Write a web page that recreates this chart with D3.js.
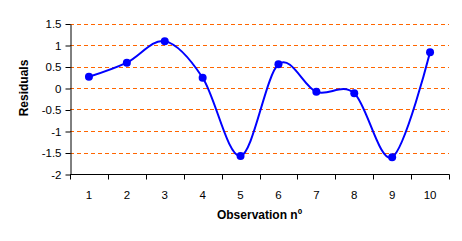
<!DOCTYPE html>
<html><head><meta charset="utf-8">
<script src="https://cdn.jsdelivr.net/npm/d3@7"></script>
<style>body{margin:0;background:#fff}svg{display:block}text{font-family:"Liberation Sans",Arial,sans-serif}</style>
</head><body><svg id="c" width="462" height="241"></svg>
<script>
const categories = ["1","2","3","4","5","6","7","8","9","10"];
const residuals = [0.26, 0.59, 1.09, 0.24, -1.58, 0.55, -0.09, -0.12, -1.61, 0.83];
const yTicks = [1.5, 1, 0.5, 0, -0.5, -1, -1.5, -2];
const gridValues = [1.5, 1, 0.5, 0, -0.5, -1, -1.5];

const svg = d3.select("#c");
const L = 70, R = 449, T = 23.5, B = 174;
const x = d3.scaleBand().domain(categories).range([L, R]);
const y = d3.scaleLinear().domain([-2, 1.5]).range([B, T]);

// gridlines
svg.append("g").selectAll("line").data(gridValues).join("line")
  .attr("x1", L).attr("x2", R)
  .attr("y1", d => Math.round(y(d)) + 0.5).attr("y2", d => Math.round(y(d)) + 0.5)
  .attr("stroke", "#FF6600").attr("stroke-width", 1).attr("stroke-dasharray", "4,3");

// y axis
const yAxis = d3.axisLeft(y).tickValues(yTicks).tickFormat(d => String(d)).tickSize(5).tickSizeOuter(0);
const gy = svg.append("g").attr("transform", `translate(${L + 0.5},0.5)`).call(yAxis);
gy.select(".domain").attr("stroke", "#000");
gy.selectAll(".tick line").attr("stroke", "#000");
gy.selectAll(".tick text").attr("font-size", 11.5).attr("fill", "#000").attr("x", -9)
  .attr("font-family", '"Liberation Sans",Arial,sans-serif');

// x axis: ticks at band boundaries
const boundaries = categories.map(c => x(c)).concat([R]);
const gx = svg.append("g").attr("transform", `translate(0,${B + 0.5})`);
gx.append("line").attr("x1", L).attr("x2", R + 0.5).attr("y1", 0).attr("y2", 0).attr("stroke", "#000");
gx.selectAll("line.tk").data(boundaries).join("line").attr("class", "tk")
  .attr("x1", d => Math.round(d) + 0.5).attr("x2", d => Math.round(d) + 0.5)
  .attr("y1", 0).attr("y2", 5).attr("stroke", "#000");
gx.selectAll("text").data(categories).join("text")
  .attr("x", d => x(d) + x.bandwidth() / 2).attr("y", 24)
  .attr("text-anchor", "middle").attr("font-size", 11.5).text(d => d);

// line
const line = d3.line()
  .x((d, i) => x(categories[i]) + x.bandwidth() / 2)
  .y(d => y(d))
  .curve(d3.curveCardinal.tension(0));
svg.append("path").datum(residuals).attr("d", line)
  .attr("fill", "none").attr("stroke", "#0000FF").attr("stroke-width", 2);

svg.append("g").selectAll("circle").data(residuals).join("circle")
  .attr("cx", (d, i) => x(categories[i]) + x.bandwidth() / 2)
  .attr("cy", d => y(d)).attr("r", 4).attr("fill", "#0000FF");

// axis titles
svg.append("text").attr("x", (L + R) / 2).attr("y", 219).attr("text-anchor", "middle")
  .attr("font-size", 12).attr("font-weight", "bold").text("Observation nº");
svg.append("text").attr("transform", `translate(28,${y(0)}) rotate(-90)`)
  .attr("text-anchor", "middle").attr("font-size", 12).attr("font-weight", "bold").text("Residuals");
</script></body></html>
